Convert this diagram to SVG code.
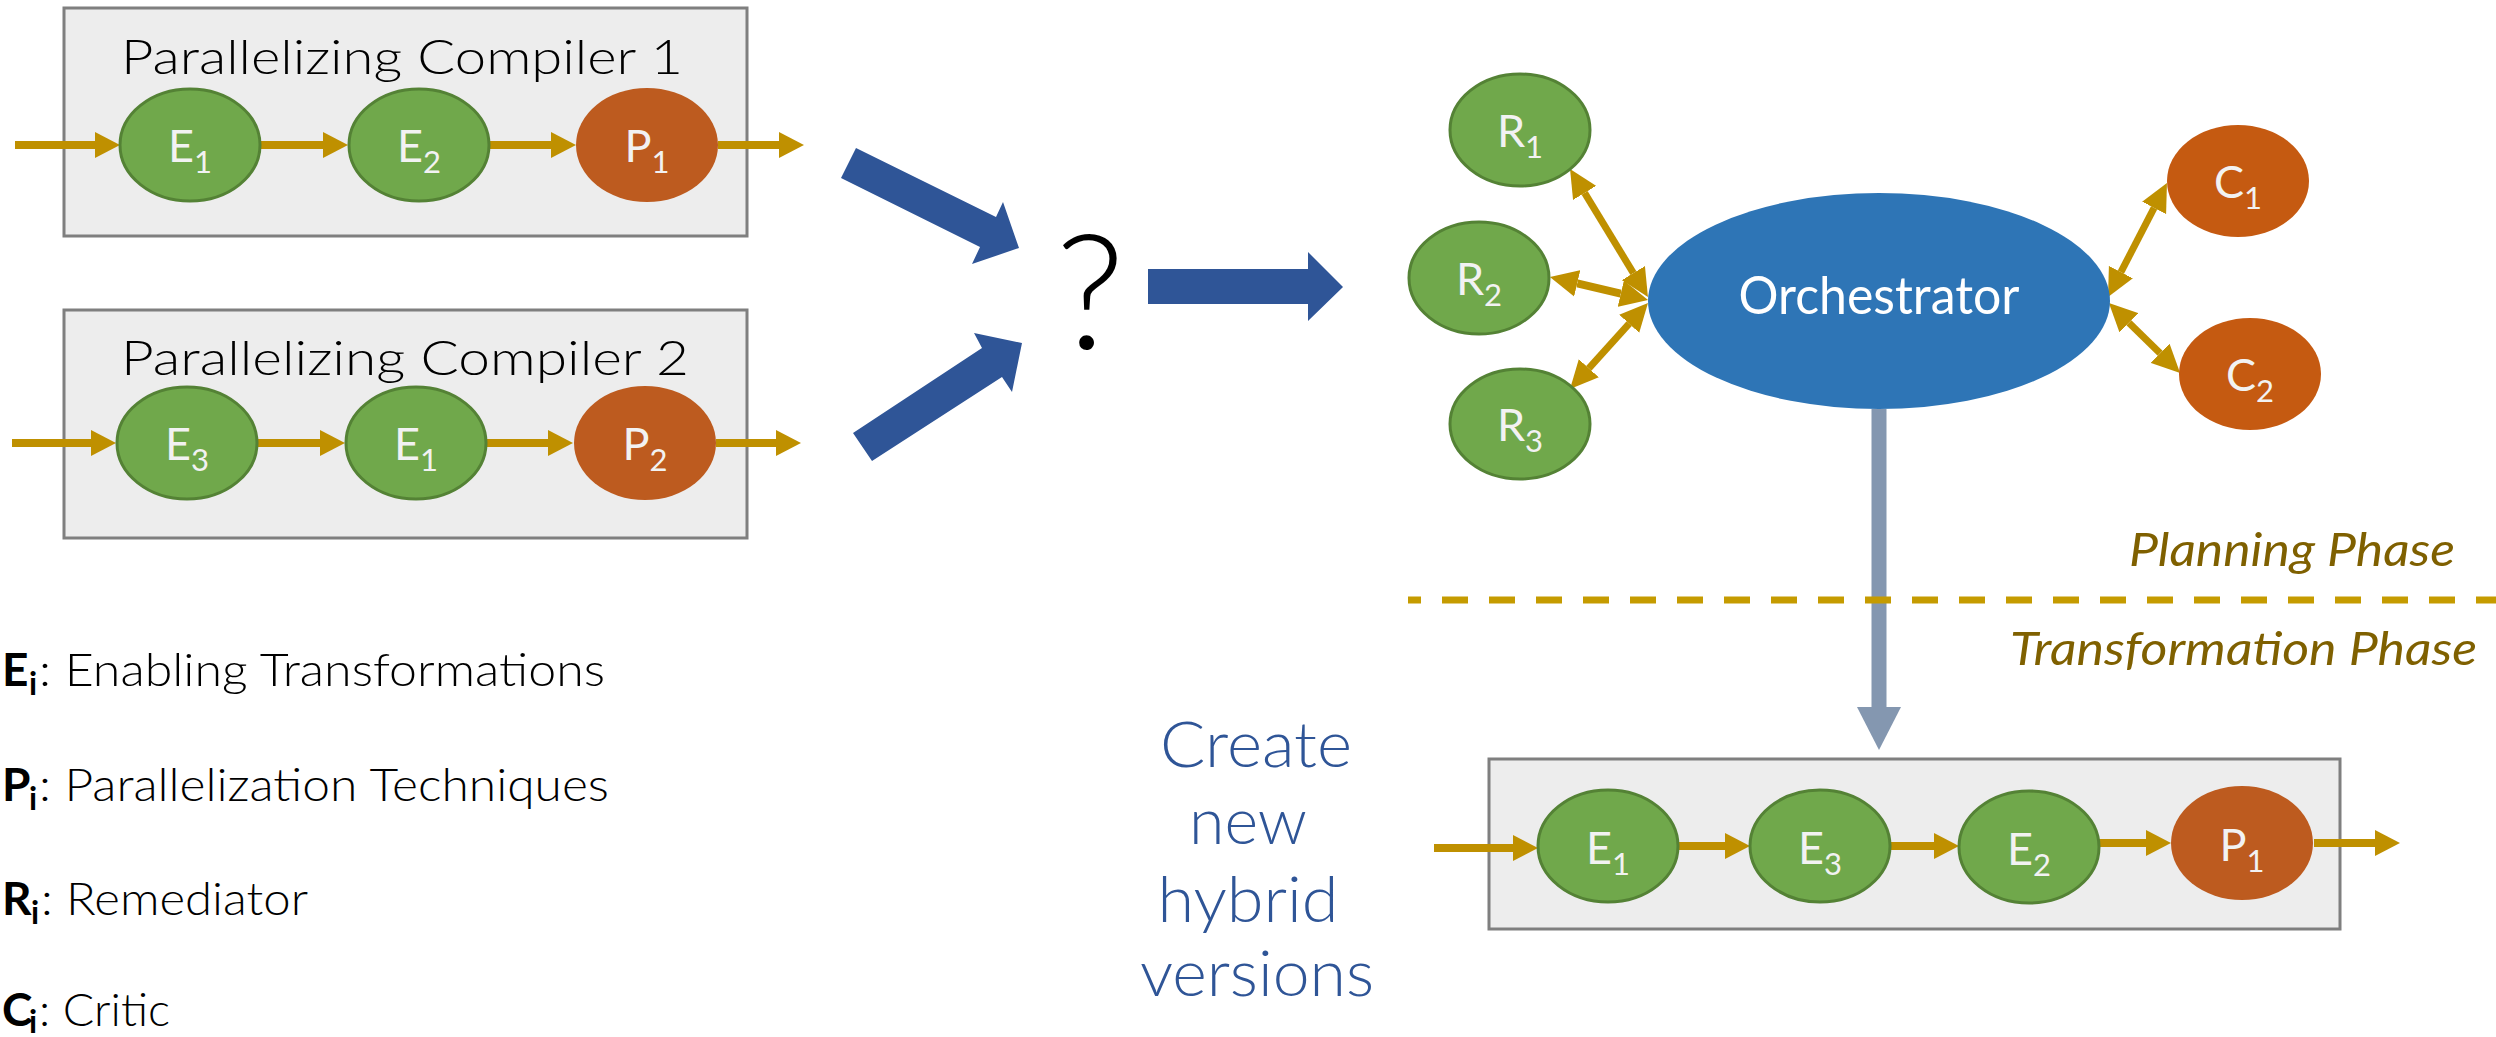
<svg xmlns="http://www.w3.org/2000/svg" width="2496" height="1037" viewBox="0 0 2496 1037">
<style>
text{font-family:Lato,"Open Sans","Liberation Sans",sans-serif}
.box{fill:#EDEDED;stroke:#7F7F7F;stroke-width:3}
.g{fill:#70A84B;stroke:#548235;stroke-width:3}
.p{fill:#BD5B1F}
.c{fill:#C55A11}
.lbl{fill:#F2F2F2;font-size:45px;text-anchor:middle}
.sub{font-size:31px}
.title{fill:#000;font-size:48px;font-weight:300}
.flow{stroke:#BF9000;stroke-width:8;fill:none;marker-end:url(#ah)}
.dbl{stroke:#BF9000;stroke-width:7;fill:none;marker-start:url(#dh);marker-end:url(#dh)}
.big{fill:#2F5597}
.lg{fill:#000;font-size:46px;font-weight:300}
.lgb{fill:#000;font-size:46px;font-weight:700}
.lgs{fill:#000;font-size:32px;font-weight:700}
.phase{fill:#7F6000;font-size:46px;font-style:italic}
.create{fill:#2F5597;font-size:63px;text-anchor:middle;font-weight:300}
</style>
<defs>
<marker id="ah" markerUnits="userSpaceOnUse" markerWidth="26" markerHeight="26" refX="0" refY="13" orient="auto">
<path d="M0,0 L25,13 L0,26 z" fill="#BF9000"/>
</marker>
<marker id="dh" markerUnits="userSpaceOnUse" markerWidth="28" markerHeight="28" refX="0" refY="14" orient="auto-start-reverse">
<path d="M0,0.5 L28,14 L0,27.5 z" fill="#BF9000"/>
</marker>
</defs>
<rect width="2496" height="1037" fill="#FFFFFF"/>

<g id="compiler1">
<rect class="box" x="64" y="8" width="683" height="228"/>
<text class="title" x="121" y="74" textLength="562" lengthAdjust="spacingAndGlyphs">Parallelizing Compiler 1</text>
</g>
<g id="compiler2">
<rect class="box" x="64" y="310" width="683" height="228"/>
<text class="title" x="121" y="375" textLength="568" lengthAdjust="spacingAndGlyphs">Parallelizing Compiler 2</text>
</g>
<g id="hybrid">
<rect class="box" x="1489" y="759" width="851" height="170"/>
</g>

<g id="connectors">
<line class="flow" x1="15" y1="145" x2="95" y2="145"/>
<line class="flow" x1="261" y1="145" x2="323" y2="145"/>
<line class="flow" x1="490" y1="145" x2="551" y2="145"/>
<line class="flow" x1="718" y1="145" x2="779" y2="145"/>
<line class="flow" x1="12" y1="443" x2="91" y2="443"/>
<line class="flow" x1="258" y1="443" x2="320" y2="443"/>
<line class="flow" x1="487" y1="443" x2="548" y2="443"/>
<line class="flow" x1="716" y1="443" x2="776" y2="443"/>
<line class="flow" x1="1434" y1="848" x2="1513" y2="848"/>
<line class="flow" x1="1679" y1="846" x2="1725" y2="846"/>
<line class="flow" x1="1890" y1="846" x2="1934" y2="846"/>
<line class="flow" x1="2099" y1="843" x2="2146" y2="843"/>
<line class="flow" x1="2314" y1="843" x2="2375" y2="843"/>
<line class="dbl" x1="1584.6" y1="192.9" x2="1633.4" y2="273.1"/>
<line class="dbl" x1="1577.2" y1="283.4" x2="1620.8" y2="293.6" style="stroke-width:8"/>
<line class="dbl" x1="1588.8" y1="368.3" x2="1629.2" y2="323.7"/>
<line class="dbl" x1="2154.1" y1="207.9" x2="2120.9" y2="272.1"/>
<line class="dbl" x1="2160.1" y1="353.3" x2="2128.9" y2="322.7"/>
<polygon class="big" points="856,148 996,217 1003,202 1019,248 972,264 980,247 841,178"/>
<polygon class="big" points="853,433 982,348 974,333 1022,343 1012,392 1002,377 872,461"/>
<polygon class="big" points="1148,269 1308,269 1308,252 1343,287 1308,321 1308,304 1148,304"/>
<line x1="1879" y1="409" x2="1879" y2="708" stroke="#8497B0" stroke-width="15"/>
<polygon points="1857,707 1901,707 1879,750" fill="#8497B0"/>
</g>

<g id="c1-e1"><ellipse class="g" cx="190" cy="145" rx="70" ry="56"/><text class="lbl" x="190" y="162">E<tspan class="sub" dy="11">1</tspan></text></g>
<g id="c1-e2"><ellipse class="g" cx="419" cy="145" rx="70" ry="56"/><text class="lbl" x="419" y="162">E<tspan class="sub" dy="11">2</tspan></text></g>
<g id="c1-p1"><ellipse class="p" cx="647" cy="145" rx="71" ry="57"/><text class="lbl" x="647" y="162">P<tspan class="sub" dy="11">1</tspan></text></g>

<g id="c2-e3"><ellipse class="g" cx="187" cy="443" rx="70" ry="56"/><text class="lbl" x="187" y="460">E<tspan class="sub" dy="11">3</tspan></text></g>
<g id="c2-e1"><ellipse class="g" cx="416" cy="443" rx="70" ry="56"/><text class="lbl" x="416" y="460">E<tspan class="sub" dy="11">1</tspan></text></g>
<g id="c2-p2"><ellipse class="p" cx="645" cy="443" rx="71" ry="57"/><text class="lbl" x="645" y="460">P<tspan class="sub" dy="11">2</tspan></text></g>

<g id="question"><text x="1090" y="349" font-size="160" font-weight="300" text-anchor="middle" fill="#000">?</text></g>

<g id="r1"><ellipse class="g" cx="1520" cy="130" rx="70" ry="56"/><text class="lbl" x="1520" y="147">R<tspan class="sub" dy="11">1</tspan></text></g>
<g id="r2"><ellipse class="g" cx="1479" cy="278" rx="70" ry="56"/><text class="lbl" x="1479" y="295">R<tspan class="sub" dy="11">2</tspan></text></g>
<g id="r3"><ellipse class="g" cx="1520" cy="424" rx="70" ry="55"/><text class="lbl" x="1520" y="441">R<tspan class="sub" dy="11">3</tspan></text></g>
<g id="orchestrator"><ellipse cx="1879" cy="301" rx="231" ry="108" fill="#2E75B6"/><text x="1879" y="314" font-size="52" fill="#FFFFFF" text-anchor="middle" textLength="281" lengthAdjust="spacingAndGlyphs">Orchestrator</text></g>
<g id="c1"><ellipse class="c" cx="2238" cy="181" rx="71" ry="56"/><text class="lbl" x="2238" y="198">C<tspan class="sub" dy="11">1</tspan></text></g>
<g id="c2"><ellipse class="c" cx="2250" cy="374" rx="71" ry="56"/><text class="lbl" x="2250" y="391">C<tspan class="sub" dy="11">2</tspan></text></g>

<g id="phases">
<line x1="1408" y1="600" x2="2496" y2="600" stroke="#C59B00" stroke-width="7" stroke-dasharray="26 21" stroke-dashoffset="13"/>
<text class="phase" x="2129" y="566" textLength="326" lengthAdjust="spacingAndGlyphs">Planning Phase</text>
<text class="phase" x="2010" y="665" textLength="467" lengthAdjust="spacingAndGlyphs">Transformation Phase</text>
</g>

<g id="create">
<text class="create" x="1256" y="767" textLength="192" lengthAdjust="spacingAndGlyphs">Create</text>
<text class="create" x="1248" y="844" textLength="118" lengthAdjust="spacingAndGlyphs">new</text>
<text class="create" x="1248" y="922" textLength="181" lengthAdjust="spacingAndGlyphs">hybrid</text>
<text class="create" x="1257" y="996" textLength="234" lengthAdjust="spacingAndGlyphs">versions</text>
</g>

<g id="h-e1"><ellipse class="g" cx="1608" cy="846" rx="70" ry="56"/><text class="lbl" x="1608" y="864">E<tspan class="sub" dy="11">1</tspan></text></g>
<g id="h-e3"><ellipse class="g" cx="1820" cy="846" rx="70" ry="56"/><text class="lbl" x="1820" y="864">E<tspan class="sub" dy="11">3</tspan></text></g>
<g id="h-e2"><ellipse class="g" cx="2029" cy="847" rx="70" ry="56"/><text class="lbl" x="2029" y="865">E<tspan class="sub" dy="11">2</tspan></text></g>
<g id="h-p1"><ellipse class="p" cx="2242" cy="843" rx="71" ry="57"/><text class="lbl" x="2242" y="861">P<tspan class="sub" dy="11">1</tspan></text></g>

<g id="legend">
<text class="lgb" x="2" y="686">E</text><text class="lgs" x="29" y="695">i</text>
<text class="lg" x="39" y="686" textLength="566" lengthAdjust="spacingAndGlyphs">: Enabling Transformations</text>
<text class="lgb" x="2" y="801">P</text><text class="lgs" x="29" y="810">i</text>
<text class="lg" x="39" y="801" textLength="570" lengthAdjust="spacingAndGlyphs">: Parallelization Techniques</text>
<text class="lgb" x="2" y="915">R</text><text class="lgs" x="31" y="924">i</text>
<text class="lg" x="41" y="915" textLength="267" lengthAdjust="spacingAndGlyphs">: Remediator</text>
<text class="lgb" x="2" y="1026">C</text><text class="lgs" x="29" y="1033">i</text>
<text class="lg" x="39" y="1026" textLength="131" lengthAdjust="spacingAndGlyphs">: Critic</text>
</g>
</svg>
